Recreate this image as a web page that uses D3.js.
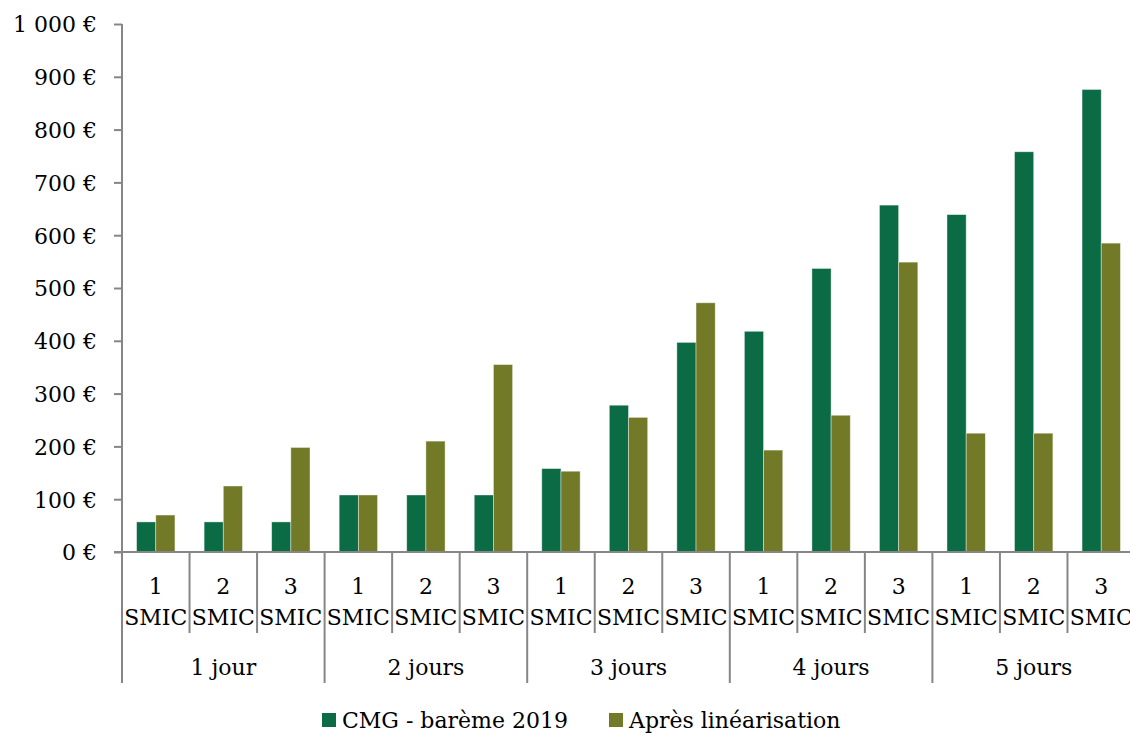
<!DOCTYPE html>
<html>
 <head>
  <meta charset="utf-8">
  <title>CMG</title>
  <style>
  body {
   margin: 0;
   background: #fff;
  }
  svg text {
   font-family: "DejaVu Serif", serif;
   font-size: 22px;
   fill: #000;
  }
  </style>
 </head>
 <body>
  <script src="https://cdnjs.cloudflare.com/ajax/libs/d3/7.8.5/d3.min.js"></script>
  <script>
   // data
   const groups = ["1 jour", "2 jours", "3 jours", "4 jours", "5 jours"];
   const levels = ["1", "2", "3"];
   const seriesNames = ["CMG - barème 2019", "Après linéarisation"];
   const cmg = [57, 57, 57, 108, 108, 108, 158, 278, 397, 418, 537, 657, 639, 758, 876];
   const apres = [70, 125, 198, 108, 210, 355, 153, 255, 472, 193, 259, 549, 225, 225, 585];
   const yTicks = [0, 100, 200, 300, 400, 500, 600, 700, 800, 900, 1000];
   const colors = ["#0b6b45", "#737a27"];

   const w = 1130;
   const h = 733;
   const padLeft = 122;
   const padRight = 1135;
   const padTop = 24;
   const base = 552;

   const cats = [];
   groups.forEach((g, gi) => levels.forEach((l, li) => cats.push({key: g + "|" + l, group: g, level: l, i: gi * 3 + li})));

   const svg = d3.select("body")
                 .append("svg")
                 .attr("width", w)
                 .attr("height", h);

   const x0 = d3.scaleBand()
                .domain(cats.map(d => d.key))
                .range([padLeft, padRight]);
   const x1 = d3.scaleBand()
                .domain(seriesNames)
                .range([0, x0.bandwidth()])
                .paddingOuter(0.76);
   const y = d3.scaleLinear()
               .domain([0, 1000])
               .range([base, padTop]);

   const fr = d3.formatLocale({decimal: ",", thousands: "\u00a0", grouping: [3], currency: ["", " €"]});
   const fmt = fr.format(",");

   // y axis
   const yAxis = d3.axisLeft(y)
                   .tickValues(yTicks)
                   .tickSize(8)
                   .tickPadding(17)
                   .tickSizeOuter(0)
                   .tickFormat(d => fmt(d) + " €");
   const gy = svg.append("g")
      .attr("id", "y-axis")
      .attr("transform", "translate(" + padLeft + ",0)")
      .call(yAxis);
   gy.select(".domain").remove();
   gy.selectAll("line").attr("stroke", "#868686").attr("stroke-width", 2);
   gy.selectAll("text").style("font-family", "DejaVu Serif").style("font-size", "22px").attr("dy", "0.36em");

   // bars
   const rows = cats.map(c => ({cat: c, vals: [cmg[c.i], apres[c.i]]}));
   const cg = svg.selectAll("g.cat")
      .data(rows)
      .enter()
      .append("g")
      .attr("class", "cat")
      .attr("transform", d => "translate(" + x0(d.cat.key) + ",0)");
   cg.selectAll("rect")
     .data(d => d.vals.map((v, k) => ({name: seriesNames[k], v: v, k: k})))
     .enter()
     .append("rect")
     .attr("x", d => x1(d.name))
     .attr("y", d => y(d.v))
     .attr("width", x1.bandwidth())
     .attr("height", d => y(0) - y(d.v))
     .attr("fill", d => colors[d.k])
     .attr("stroke", "rgba(255,255,255,0.5)")
     .attr("stroke-width", 0.8);

   // category axis
   const axisColor = "#868686";
   svg.append("line")
      .attr("x1", padLeft - 8).attr("x2", w)
      .attr("y1", base).attr("y2", base)
      .attr("stroke", axisColor).attr("stroke-width", 2);
   svg.append("line")
      .attr("x1", padLeft).attr("x2", padLeft)
      .attr("y1", padTop).attr("y2", 683)
      .attr("stroke", axisColor).attr("stroke-width", 2);
   cats.forEach(c => {
     const xe = x0(c.key) + x0.bandwidth();
     const isGroupEnd = c.level === "3";
     svg.append("line")
        .attr("x1", xe).attr("x2", xe)
        .attr("y1", base).attr("y2", isGroupEnd ? 683 : 633)
        .attr("stroke", axisColor).attr("stroke-width", 2);
     const cx = x0(c.key) + x0.bandwidth() / 2;
     svg.append("text")
        .attr("x", cx).attr("y", 594)
        .attr("text-anchor", "middle")
        .text(c.level);
     svg.append("text")
        .attr("x", cx).attr("y", 625)
        .attr("text-anchor", "middle")
        .text("SMIC");
   });
   groups.forEach((g, gi) => {
     const a = x0(cats[gi * 3].key);
     const b = x0(cats[gi * 3 + 2].key) + x0.bandwidth();
     svg.append("text")
        .attr("x", (a + b) / 2).attr("y", 675)
        .attr("text-anchor", "middle")
        .text(g);
   });

   // legend
   const legendX = [322, 609];
   seriesNames.forEach((n, k) => {
     svg.append("rect")
        .attr("x", legendX[k]).attr("y", 713)
        .attr("width", 14).attr("height", 14)
        .attr("fill", colors[k]);
     svg.append("text")
        .attr("x", legendX[k] + 20).attr("y", 728)
        .text(n);
   });
  </script>
 </body>
</html>
